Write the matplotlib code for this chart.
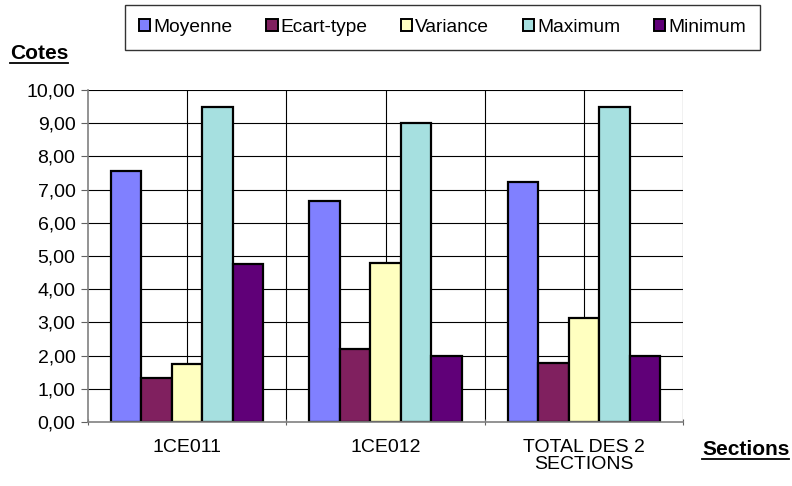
import numpy as np
import matplotlib.pyplot as plt
from matplotlib.patches import Patch
from matplotlib.lines import Line2D

plt.rcParams['font.family'] = ['Liberation Sans', 'DejaVu Sans']

categories = ['1CE011', '1CE012', 'TOTAL DES 2\nSECTIONS']
series_names = ['Moyenne', 'Ecart-type', 'Variance', 'Maximum', 'Minimum']
moyenne = [7.55, 6.65, 7.22]
ecart_type = [1.32, 2.20, 1.77]
variance = [1.75, 4.80, 3.12]
maximum = [9.50, 9.00, 9.50]
minimum = [4.75, 2.00, 2.00]
colors = ['#8080FF', '#80205F', '#FFFFC0', '#A6E0E0', '#600078']
y_ticks = [0, 1, 2, 3, 4, 5, 6, 7, 8, 9, 10]

series = [moyenne, ecart_type, variance, maximum, minimum]

fig = plt.figure(figsize=(7.92, 4.86), dpi=100)
ax = fig.add_axes([88 / 792, 1 - 422 / 486, (683 - 88) / 792, (422 - 90) / 486])

x = np.arange(len(categories))
bw = 1 / 6.5
for i, vals in enumerate(series):
    ax.bar(x + (i - 2) * bw, vals, width=bw, color=colors[i], edgecolor='black',
           linewidth=1.6, zorder=3, label=series_names[i])

ax.set_xlim(-0.5, len(categories) - 0.5)
ax.set_ylim(0, 10)

# quadrillage
for yv in y_ticks[1:]:
    ax.axhline(yv, color='black', linewidth=0.8, zorder=1)
for xv in np.arange(0, len(categories) + 0.5, 0.5) - 0.5:
    if xv > -0.5:
        ax.axvline(xv, color='black', linewidth=0.8, zorder=1)

ax.set_yticks(y_ticks)
ax.yaxis.set_major_formatter(plt.FuncFormatter(lambda v, p: ('%.2f' % v).replace('.', ',')))
ax.set_xticks(np.arange(-0.5, len(categories), 1.0))
ax.set_xticklabels([])
ax.set_xticks(x, minor=True)
ax.set_xticklabels(categories, minor=True, fontsize=14, linespacing=1.05)
ax.tick_params(axis='x', which='minor', length=0, pad=12)
ax.tick_params(axis='x', which='major', length=5, color='#606060', direction='inout')
ax.tick_params(axis='y', length=5, color='#606060', labelsize=14, pad=4)

for s in ['top', 'right']:
    ax.spines[s].set_visible(False)
for s in ['left', 'bottom']:
    ax.spines[s].set_color('#808080')
    ax.spines[s].set_linewidth(1.2)
    ax.spines[s].set_zorder(4)

handles = [Patch(facecolor=colors[i], edgecolor='black', linewidth=1.4, label=series_names[i])
           for i in range(len(series_names))]
leg = fig.legend(handles=handles, loc='center', bbox_to_anchor=(442.5 / 792, 1 - 27.5 / 486),
                 ncol=5, frameon=True, fancybox=False, fontsize=13.8, handlelength=0.6,
                 handleheight=0.6, handletextpad=0.15, columnspacing=1.75, borderpad=0.75)
leg.get_frame().set_edgecolor('black')
leg.get_frame().set_linewidth(1.0)

t1 = fig.text(10 / 792, 1 - 59 / 486, 'Cotes', fontsize=15, fontweight='bold', va='baseline')
t2 = fig.text(702 / 792, 1 - 455 / 486, 'Sections', fontsize=15, fontweight='bold', va='baseline')

fig.canvas.draw()
r = fig.canvas.get_renderer()
for t in [t1, t2]:
    bb = t.get_window_extent(r).transformed(fig.transFigure.inverted())
    yline = bb.y0 + 0.5 / 486
    fig.add_artist(Line2D([bb.x0, bb.x1], [yline, yline], color='black', linewidth=1.3,
                          transform=fig.transFigure))

fig.savefig('out.png', dpi=100)
